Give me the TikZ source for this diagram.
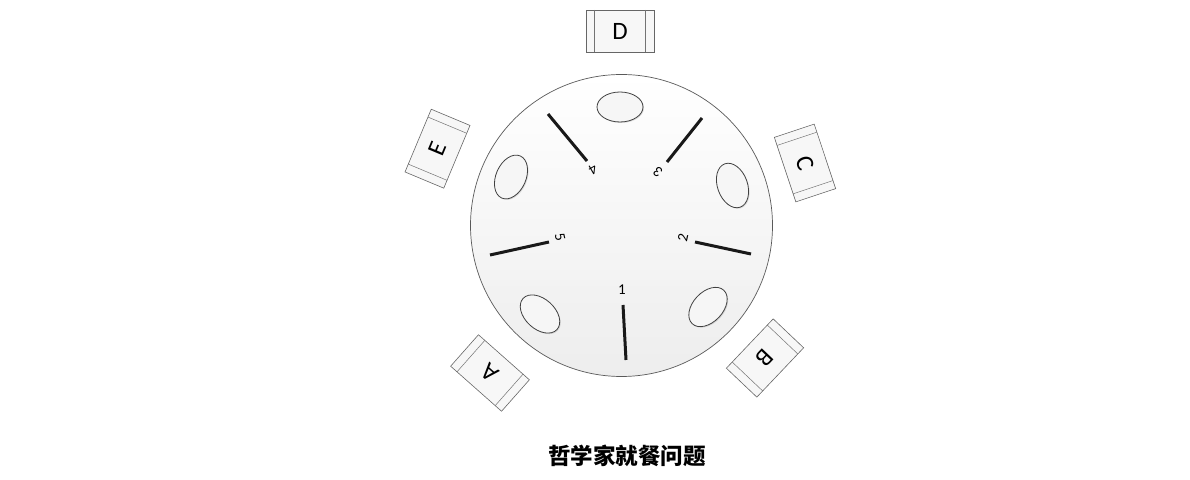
\documentclass[tikz,border=0pt]{standalone}
\usepackage{fontspec}
\setmainfont{Carlito}
\newfontfamily\cjkfont{Noto Sans CJK SC}
\usetikzlibrary{calc,shapes.geometric,shadows}
\tikzset{
 chair/.style={draw=black!60, line width=0.6pt, fill=gray!6, minimum width=68pt, minimum height=42pt, inner sep=0pt, outer sep=0pt, font=\fontsize{25}{25}\selectfont},
 plate/.style={ellipse, draw=black!75, line width=0.8pt, fill=gray!7, minimum width=46pt, minimum height=30pt, inner sep=0pt, drop shadow={shadow xshift=1pt, shadow yshift=-1pt, opacity=0.25}},
 tablecircle/.style={circle, draw=black!65, line width=0.7pt, top color=white, bottom color=gray!14, minimum size=302pt, inner sep=0pt},
 chopstick/.style={line width=3pt, draw=black!90},
 stickno/.style={font=\fontsize{15}{15}\selectfont, inner sep=0pt},
 titletext/.style={font=\cjkfont\bfseries\fontsize{22.5}{22.5}\selectfont, inner sep=0pt},
 stripline/.style={draw=black!55, line width=0.5pt}
}
\newcommand\chairstrips[1]{%
 \draw[stripline] ($(#1.north west)!0.125!(#1.north east)$) -- ($(#1.south west)!0.125!(#1.south east)$);
 \draw[stripline] ($(#1.north west)!0.875!(#1.north east)$) -- ($(#1.south west)!0.875!(#1.south east)$);}
\begin{document}
\begin{tikzpicture}[x=1pt,y=1pt]
\useasboundingbox (0,0) rectangle (1190,479);
% table
\node[tablecircle] (tbl) at (621.5,253.5) {};
% plates
\node[plate] (pD) at (620,372) {};
\node[plate, rotate=-70.5] (pC) at (732.5,293.5) {};
\node[plate, rotate=-133.3] (pB) at (708,172) {};
\node[plate, rotate=137.4] (pA) at (540,165) {};
\node[plate, rotate=66.3] (pE) at (511,302) {};
% chopsticks
\coordinate (c1a) at (623,174); \coordinate (c1b) at (626,119);
\coordinate (c2a) at (695,237); \coordinate (c2b) at (751,225);
\coordinate (c3a) at (667,317); \coordinate (c3b) at (702,361);
\coordinate (c4a) at (587,318); \coordinate (c4b) at (548,365);
\coordinate (c5a) at (549,237); \coordinate (c5b) at (490,224);
\draw[chopstick] (c1a) -- (c1b);
\draw[chopstick] (c2a) -- (c2b);
\draw[chopstick] (c3a) -- (c3b);
\draw[chopstick] (c4a) -- (c4b);
\draw[chopstick] (c5a) -- (c5b);
\node[stickno] (n1) at (622,189) {1};
\node[stickno, rotate=77.5] (n2) at (683,241) {2};
\node[stickno, rotate=144] (n3) at (658,307) {3};
\node[stickno, rotate=210] (n4) at (593,309) {4};
\node[stickno, rotate=-77.4] (n5) at (560,242) {5};
% chairs
\node[chair] (D) at (620,448) {D};
\node[chair, rotate=-71.6] (C) at (805,316) {C};
\node[chair, rotate=-133.5] (B) at (765,121) {B};
\node[chair, rotate=138.5] (A) at (490,106) {A};
\node[chair, rotate=67.3] (E) at (437.5,330.3) {E};
\chairstrips{D}
\chairstrips{C}
\chairstrips{B}
\chairstrips{A}
\chairstrips{E}
% title
\node[titletext] (ttl) at (627,23) {哲学家就餐问题};
\end{tikzpicture}
\end{document}
